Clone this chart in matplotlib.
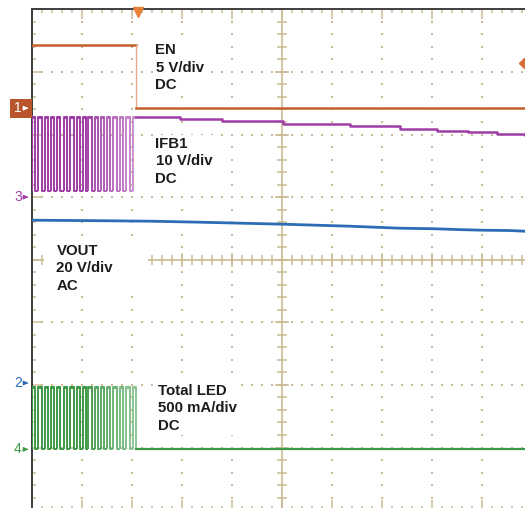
import matplotlib
matplotlib.use("Agg")
import matplotlib.pyplot as plt
import numpy as np
from matplotlib.collections import LineCollection
from matplotlib.patches import Rectangle
from matplotlib.colors import to_rgb

# ---------------- data (screen divisions) ----------------
# burst PWM edges (horizontal divisions)
pwm_rise = [0.00, 0.12, 0.25, 0.37, 0.50, 0.63, 0.76, 0.89, 1.01, 1.13, 1.25, 1.39, 1.51, 1.63, 1.76, 1.89, 2.02]
pwm_fall = [0.05, 0.19, 0.32, 0.44, 0.57, 0.70, 0.83, 0.95, 1.07, 1.20, 1.32, 1.45, 1.57, 1.70, 1.83, 1.95, 2.09]

en_time = [0.0, 2.09, 10.0]
en_level = [3.43, 2.42, 2.42]

ifb_high, ifb_low = 2.28, 1.09
ifb_time = [2.09, 2.36, 2.96, 3.80, 5.02, 6.36, 7.36, 8.10, 8.72, 9.30, 9.86]
ifb_level = [2.276, 2.272, 2.240, 2.212, 2.170, 2.130, 2.085, 2.058, 2.037, 2.013, 1.989]

vout_time = [0.0, 1.36, 2.36, 3.36, 5.02, 6.36, 7.36, 8.02, 8.50, 9.02, 9.56, 9.86]
vout_level = [0.631, 0.623, 0.615, 0.599, 0.567, 0.535, 0.503, 0.495, 0.482, 0.471, 0.466, 0.455]

led_high, led_low = -2.04, -3.03
led_time_after = [2.09, 10.0]

channel_names = ["1", "3", "2", "4"]
channel_refs = [2.42, 1.00, -1.97, -3.03]

labels = ["EN\n5 V/div\nDC", "IFB1\n10 V/div\nDC", "VOUT\n20 V/div\nAC", "Total LED\n500 mA/div\nDC"]
label_pos = [(2.47, 3.46), (2.47, 1.965), (0.49, 0.255), (2.52, -1.98)]

# ---------------- styles ----------------
C_EN = "#c65e2c"
C_IFB = "#a03ca6"
C_IFB_F = "#cf9ad2"
C_VOUT = "#2c6db6"
C_LED = "#3e9a48"
C_LED_F = "#97cba0"
TAN = "#cbbb94"
FRAME = "#3e3e3e"
CH_COL = ["white", C_IFB, C_VOUT, C_LED]

W, H = 525, 508
x0px, ytop = 32, 9.3
dx, dy = 50.0, 62.6
fig = plt.figure(figsize=(W / 100, H / 100), dpi=100)
ax = fig.add_axes([x0px / W, (H - (ytop + 8 * dy)) / H, 10 * dx / W, 8 * dy / H])
ax.set_xlim(0, 10)
ax.set_ylim(-4, 4)
for s in ["top", "left", "bottom"]:
    ax.spines[s].set_color(FRAME)
    ax.spines[s].set_linewidth(1.4)
ax.spines["right"].set_visible(False)

ax.set_xticks(np.arange(0, 11, 1))
ax.set_xticks(np.arange(0, 10.01, 0.2), minor=True)
ax.set_yticks(np.arange(-4, 5, 1))
ax.set_yticks(np.arange(-4, 4.01, 0.2), minor=True)
ax.tick_params(which="both", direction="in", top=True, bottom=True, left=True, right=False,
               labelbottom=False, labelleft=False, color=TAN, width=1.1, zorder=1)
ax.tick_params(which="major", length=7.5)
ax.tick_params(which="minor", length=3.2)

# dotted grid
gx, gy = [], []
for xi in [1, 2, 3, 4, 6, 7, 8, 9]:
    for yv in np.arange(-3.8, 3.81, 0.2):
        gx.append(xi); gy.append(yv)
for yi in [-3, -2, -1, 1, 2, 3]:
    for xv in np.arange(0.2, 9.91, 0.2):
        gx.append(xv); gy.append(yi)
ax.scatter(gx, gy, s=1.4, marker="s", color=TAN, linewidths=0, zorder=1)

# center crosshair
ax.axvline(5, color=TAN, lw=1.2, zorder=1)
ax.axhline(0, color=TAN, lw=1.2, zorder=1)
yt = np.arange(-3.8, 3.81, 0.2)
ax.plot(np.full(len(yt), 5.0), yt, ls="none", marker="_", ms=6.5, mew=1.1, color=TAN, zorder=1)
ax.plot(np.full(7, 5.0), [-3, -2, -1, 0, 1, 2, 3], ls="none", marker="_", ms=10, mew=1.1, color=TAN, zorder=1)
xt = np.arange(0.2, 9.91, 0.2)
ax.plot(xt, np.zeros(len(xt)), ls="none", marker="|", ms=7, mew=1.1, color=TAN, zorder=1)
ax.plot([1, 2, 3, 4, 6, 7, 8, 9], np.zeros(8), ls="none", marker="|", ms=10, mew=1.1, color=TAN, zorder=1)

# white area behind VOUT label
ax.add_patch(Rectangle((0.24, -0.567), 2.08, 0.942, facecolor="white", edgecolor="none", zorder=2))


def burst(high, low, dark, faded, last_stays_high):
    segs, cols = [], []
    n = len(pwm_rise)
    for i in range(n):
        r, f = pwm_rise[i], pwm_fall[i]
        nxt = pwm_rise[i + 1] if i + 1 < n else f
        if last_stays_high and i == n - 1:
            pts = [(r, low), (r, high), (f, high)]
        else:
            pts = [(r, low), (r, high), (f, high), (f, low), (nxt, low)]
        segs.append(pts)
        a = 0.0 if i < 8 else (i - 8) / (n - 8)
        c1, c2 = np.array(to_rgb(dark)), np.array(to_rgb(faded))
        cols.append(tuple(c1 * (1 - a) + c2 * a))
    lc = LineCollection(segs, colors=cols, linewidths=1.4, zorder=4)
    ax.add_collection(lc)
    for i in range(n):
        ax.plot([pwm_rise[i], pwm_fall[i]], [high, high], color=cols[i], lw=2.2, solid_capstyle="butt", zorder=4)


# EN
ax.plot(en_time[:2], [en_level[0]] * 2, color=C_EN, lw=1.8, zorder=4)
ax.plot([en_time[1]] * 2, [en_level[0], en_level[1]], color="#e3a98c", lw=1.0, zorder=4)
ax.plot(en_time[1:], en_level[1:], color=C_EN, lw=1.8, zorder=4)

# IFB1
burst(ifb_high, ifb_low, C_IFB, C_IFB_F, True)
ax.plot(ifb_time, ifb_level, color=C_IFB, lw=1.8, drawstyle="steps-post", zorder=4)

# VOUT
ax.plot(vout_time, vout_level, color=C_VOUT, lw=2.0, zorder=4)

# Total LED
burst(led_high, led_low, C_LED, C_LED_F, False)
ax.plot(led_time_after, [led_low, led_low], color=C_LED, lw=1.6, zorder=4)

# labels
for txt, (lx, ly) in zip(labels, label_pos):
    bb = None if txt.startswith("VOUT") else dict(facecolor="white", edgecolor="none", pad=1.5)
    ax.text(lx, ly, txt, ha="left", va="top", fontsize=10.8, fontweight="bold",
            family="Liberation Sans", color="#1c1c1c", linespacing=1.33, bbox=bb, zorder=5)

# channel markers
ax.add_patch(Rectangle((-0.44, 2.27), 0.43, 0.29, facecolor="#b9552a", edgecolor="none",
                       clip_on=False, zorder=5))
for name, ref, col in zip(channel_names, channel_refs, CH_COL):
    ax.text(-0.28, ref, name, ha="center", va="center", fontsize=10, family="Liberation Sans",
            color=col, clip_on=False, zorder=6)
    acol = "white" if name == "1" else col
    ax.annotate("", xy=(-0.02, ref), xytext=(-0.18, ref),
                arrowprops=dict(arrowstyle="-|>", color=acol, lw=1.0, mutation_scale=6),
                annotation_clip=False, zorder=6)

# trigger markers
ax.plot([2.11], [3.95], marker="v", ms=7, color="#e8803a", ls="none", clip_on=False, zorder=6)
ax.plot([9.84], [3.15], marker="D", ms=5.5, color="#d8703a", ls="none", clip_on=False, zorder=6)

fig.savefig("out.png", dpi=100)
